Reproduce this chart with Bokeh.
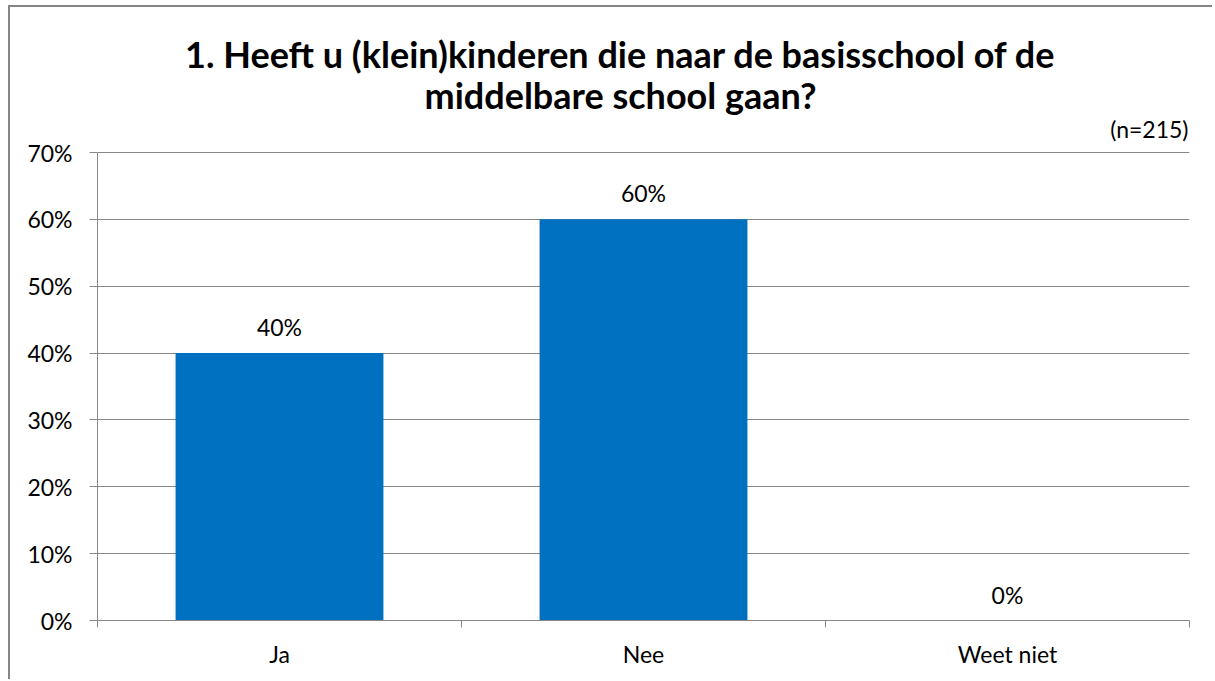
from bokeh.plotting import figure
from bokeh.models import Range1d, FixedTicker, NumeralTickFormatter, ColumnDataSource
from bokeh.core.properties import value
from bokeh.embed import file_html
from bokeh.resources import INLINE

title_lines = ["1. Heeft u (klein)kinderen die naar de basisschool of de",
               "middelbare school gaan?"]
note = "(n=215)"
categories = ["Ja", "Nee", "Weet niet"]
values = [0.40, 0.60, 0.0]
value_labels = ["40%", "60%", "0%"]
y_ticks = [0.0, 0.1, 0.2, 0.3, 0.4, 0.5, 0.6, 0.7]

FONT = "Lato"
GRAY = "#868686"
BLUE = "#0070C0"

n = len(categories)
xc = [i + 0.5 for i in range(n)]
y_max = y_ticks[-1]

# layout (pixels): the frame extends above the 70% line so the titles can sit inside it
AXIS_PX = 468       # height of the 0..70% axis
HEAD_PX = 137       # room above the 70% line for the titles
y_end = y_max * (AXIS_PX + HEAD_PX) / AXIS_PX

p = figure(width=1204, height=674, output_backend="svg", toolbar_location=None,
           x_range=Range1d(0, n), y_range=Range1d(0, y_end),
           min_border_left=87, min_border_right=25, min_border_top=8, min_border_bottom=61)
p.styles = {"border-top": "2px solid #868686", "border-left": "2px solid #868686",
            "margin-left": "8px", "margin-top": "5px"}
p.outline_line_color = None
p.background_fill_color = "white"
p.border_fill_color = "white"

src = ColumnDataSource(dict(x=xc, top=values, lab=value_labels))
p.vbar(x="x", top="top", width=0.571, bottom=0, source=src, fill_color=BLUE, line_color=None)
p.text(x="x", y="top", text="lab", source=src, text_align="center", text_baseline="middle",
       y_offset=-26, text_font=value(FONT), text_font_size="23px", text_color="black")

# titles
p.text(x=[n / 2], y=[y_max], text=[title_lines[0]], x_offset=-23, y_offset=-99,
       text_align="center", text_baseline="middle", text_font=value(FONT),
       text_font_size="36px", text_font_style="bold", text_color="black")
p.text(x=[n / 2], y=[y_max], text=[title_lines[1]], x_offset=-23, y_offset=-58,
       text_align="center", text_baseline="middle", text_font=value(FONT),
       text_font_size="36px", text_font_style="bold", text_color="black")
p.text(x=[n], y=[y_max], text=[note], x_offset=-1, y_offset=-24,
       text_align="right", text_baseline="middle", text_font=value(FONT),
       text_font_size="23px", text_color="black")

# y axis
p.yaxis.ticker = FixedTicker(ticks=y_ticks)
p.yaxis.bounds = (0, y_max)
p.yaxis.formatter = NumeralTickFormatter(format="0%")
p.yaxis.axis_line_color = GRAY
p.yaxis.major_tick_line_color = GRAY
p.yaxis.major_tick_out = 8
p.yaxis.major_tick_in = 0
p.yaxis.minor_tick_line_color = None
p.yaxis.major_label_standoff = 17
p.yaxis.major_label_text_font = FONT
p.yaxis.major_label_text_font_size = "23px"
p.yaxis.major_label_text_color = "black"

# x axis: labels at category centres, ticks at category boundaries
p.xaxis.ticker = FixedTicker(ticks=xc, minor_ticks=list(range(n + 1)))
p.xaxis.major_label_overrides = {x: c for x, c in zip(xc, categories)}
p.xaxis.axis_line_color = GRAY
p.xaxis.major_tick_line_color = None
p.xaxis.major_tick_out = 0
p.xaxis.major_tick_in = 0
p.xaxis.minor_tick_line_color = GRAY
p.xaxis.minor_tick_out = 7
p.xaxis.minor_tick_in = 0
p.xaxis.major_label_standoff = 12
p.xaxis.major_label_text_font = FONT
p.xaxis.major_label_text_font_size = "23px"
p.xaxis.major_label_text_color = "black"

p.xgrid.grid_line_color = None
p.ygrid.grid_line_color = GRAY
p.ygrid.grid_line_width = 1

open("out.html", "w").write(file_html(p, INLINE))
